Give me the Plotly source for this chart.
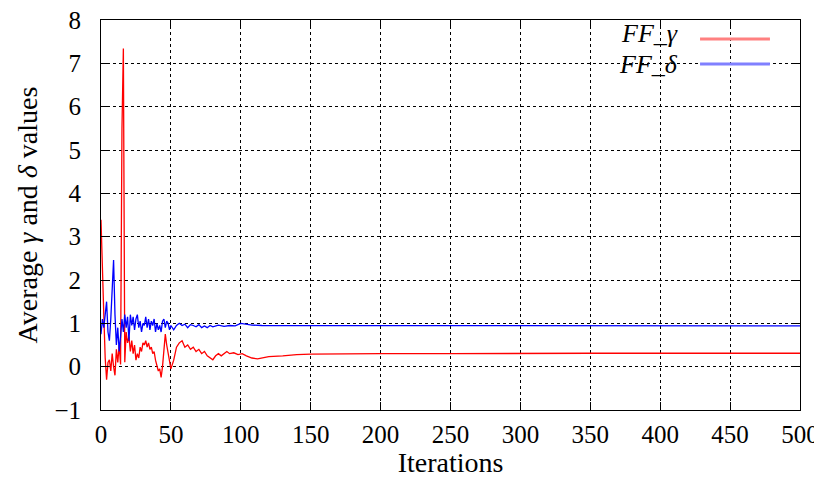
import plotly.graph_objects as go

# FF_gamma (red) : iteration, value
gamma_x = [0, 1, 2, 3, 4, 5, 6, 7, 8, 9, 10, 11, 12, 13, 14, 15, 16, 17, 18, 19,
           20, 21, 22, 23, 24, 25, 26, 27, 28, 29, 30, 31, 32, 33, 34, 35, 36, 37, 38, 39,
           40, 41, 42, 43, 44, 45, 46, 47, 48, 49, 50, 52, 54, 56, 58, 60, 62, 64, 66, 68,
           70, 72, 74, 76, 78, 80, 82, 84, 86, 88, 90, 92, 95, 98, 101, 104, 108, 112, 116, 120,
           130, 140, 150, 175, 200, 250, 300, 350, 400, 450, 500]
gamma_y = [3.39, 2.5, 1.2, 0.2, -0.3, 0.1, 0.16, -0.1, 0.3, 0.0, -0.2, 0.4, 0.1, 0.5, 0.05, 5.5, 7.34, 0.1, 0.8, 0.55,
           0.7, 0.35, 0.6, 0.3, 0.5, 0.15, 0.3, 0.2, 0.45, 0.35, 0.55, 0.5, 0.6, 0.45, 0.55, 0.4, 0.45, 0.3, 0.35, 0.15,
           0.0, -0.1, -0.05, -0.25, 0.0, 0.35, 0.75, 0.5, 0.3, 0.05, -0.05, 0.15, 0.45, 0.55, 0.6, 0.45, 0.5, 0.4, 0.45, 0.35,
           0.4, 0.3, 0.35, 0.25, 0.2, 0.16, 0.25, 0.3, 0.25, 0.3, 0.35, 0.3, 0.32, 0.28, 0.3, 0.25, 0.2, 0.18, 0.2, 0.23,
           0.25, 0.28, 0.29, 0.3, 0.3, 0.3, 0.31, 0.31, 0.31, 0.31, 0.31]

# FF_delta (blue)
delta_x = [0, 1, 2, 3, 4, 5, 6, 7, 8, 9, 10, 11, 12, 13, 14, 15, 16, 17, 18, 19,
           20, 21, 22, 23, 24, 25, 26, 27, 28, 29, 30, 31, 32, 33, 34, 35, 36, 37, 38, 39,
           40, 41, 42, 43, 44, 45, 46, 47, 48, 49, 50, 52, 54, 56, 58, 60, 62, 64, 66, 68,
           70, 72, 74, 76, 78, 80, 84, 88, 92, 96, 100, 104, 108, 115, 125, 140, 150, 175, 200, 250,
           300, 350, 400, 450, 500]
delta_y = [0.75, 1.1, 0.9, 1.3, 1.5, 0.8, 0.6, 1.1, 1.7, 2.46, 1.2, 0.5, 0.9, 0.35, 0.7, 1.1, 0.8, 1.2, 0.9, 1.15,
           0.6, 1.2, 0.95, 1.15, 0.85, 1.1, 1.2, 0.9, 1.05, 0.8, 1.0, 0.95, 1.15, 0.9, 1.1, 0.85, 1.05, 0.95, 1.1, 0.8,
           1.0, 0.85, 0.95, 0.8, 1.05, 1.1, 0.9, 1.05, 1.0, 0.85, 0.95, 0.85, 0.95, 1.0, 0.95, 0.98, 0.9, 0.97, 0.95, 0.92,
           0.97, 0.9, 0.94, 0.9, 0.95, 0.92, 0.96, 0.93, 0.95, 0.94, 1.0, 0.98, 0.96, 0.95, 0.95, 0.94, 0.94, 0.94, 0.94, 0.94,
           0.94, 0.94, 0.94, 0.94, 0.94]

x_ticks = [0, 50, 100, 150, 200, 250, 300, 350, 400, 450, 500]
y_ticks = [-1, 0, 1, 2, 3, 4, 5, 6, 7, 8]

FONT = "Liberation Serif"

fig = go.Figure()
fig.add_trace(go.Scatter(x=gamma_x, y=gamma_y, mode="lines",
                         line=dict(color="#ff0000", width=1.3), name="FF_γ", showlegend=False))
fig.add_trace(go.Scatter(x=delta_x, y=delta_y, mode="lines",
                         line=dict(color="#0000ff", width=1.3), name="FF_δ", showlegend=False))

axis_common = dict(showline=True, linecolor="black", linewidth=1, mirror="ticks",
                   ticks="inside", ticklen=8, tickcolor="black", tickwidth=1,
                   showgrid=True, gridcolor="black", gridwidth=1, griddash="dot",
                   zeroline=False, ticklabeloverflow="allow", automargin=False,
                   tickfont=dict(family=FONT, size=25, color="black"))

fig.update_xaxes(range=[0, 500], tickvals=x_ticks, ticklabelstandoff=2,
                 title=dict(text="Iterations", font=dict(family=FONT, size=28, color="black"), standoff=6),
                 **axis_common)
fig.update_yaxes(range=[-1, 8], tickvals=y_ticks, ticklabelstandoff=14,
                 title=dict(text="Average <i>γ</i> and <i>δ</i> values",
                            font=dict(family=FONT, size=28, color="black"), standoff=8),
                 **axis_common)

# legend drawn gnuplot-style: text right-aligned, sample line to the right
legend_items = [("<i>FF</i>_<i>γ</i>", "#ff8080", 0.966, 0.951),
                ("<i>FF</i>_<i>δ</i>", "#8080ff", 0.887, 0.887)]
for text, col, yt, yl in legend_items:
    fig.add_annotation(x=0.827, y=yt, xref="paper", yref="paper", text=text, showarrow=False,
                       xanchor="right", yanchor="middle", borderpad=0,
                       font=dict(family=FONT, size=26, color="black"))
    fig.add_shape(type="line", xref="paper", yref="paper", x0=0.857, x1=0.957, y0=yl, y1=yl,
                  line=dict(color=col, width=3))

# the page body has an 8px margin on every side: size and margins chosen so the plot lands
# where the reference has it and the page does not overflow (no scrollbars) in 822x486
fig.update_layout(width=814, height=470, margin=dict(l=93, r=22, t=12, b=68, autoexpand=False),
                  plot_bgcolor="white", paper_bgcolor="white",
                  font=dict(family=FONT, color="black"))

fig.write_html("out.html")
